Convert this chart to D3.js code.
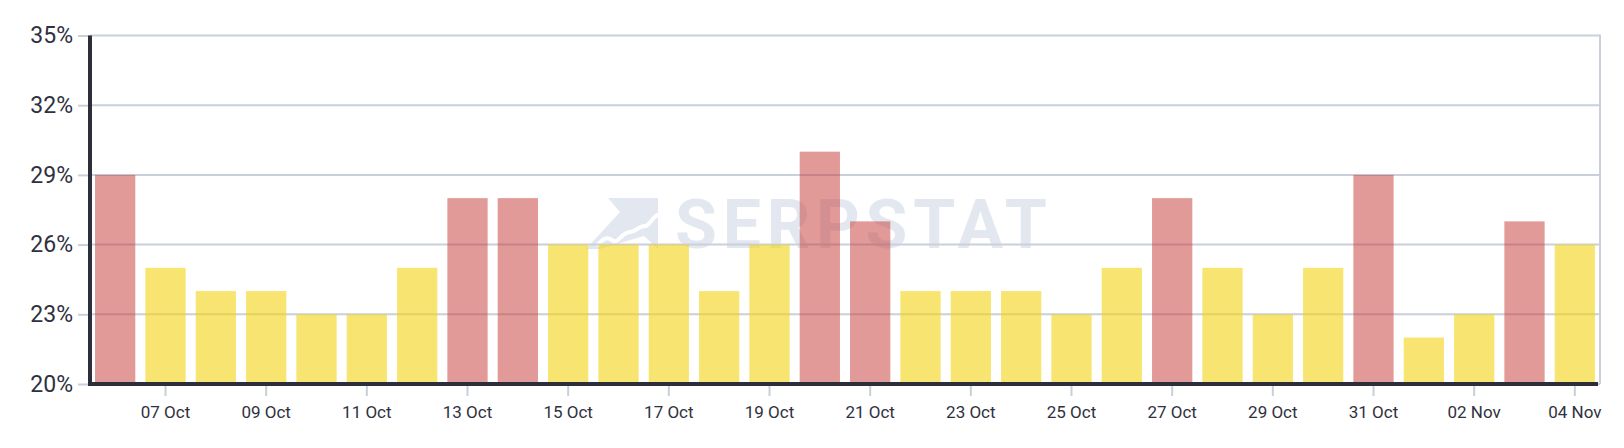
<!DOCTYPE html>
<html>
<head>
<meta charset="utf-8">
<script src="https://cdn.jsdelivr.net/npm/d3@7"></script>
<style>
  html, body { margin: 0; padding: 0; background: #ffffff; }
  svg { display: block; font-family: Roboto, "Noto Sans", sans-serif; }
</style>
</head>
<body>
<svg id="chart" width="1624" height="448"></svg>
<script>
const categories = ["06 Oct","07 Oct","08 Oct","09 Oct","10 Oct","11 Oct","12 Oct","13 Oct","14 Oct","15 Oct",
  "16 Oct","17 Oct","18 Oct","19 Oct","20 Oct","21 Oct","22 Oct","23 Oct","24 Oct","25 Oct",
  "26 Oct","27 Oct","28 Oct","29 Oct","30 Oct","31 Oct","01 Nov","02 Nov","03 Nov","04 Nov"];
const values = [29,25,24,24,23,23,25,28,28,26,26,26,24,26,30,27,24,24,24,23,25,28,25,23,25,29,22,23,27,26];
const highlighted = [1,0,0,0,0,0,0,1,1,0,0,0,0,0,1,1,0,0,0,0,0,1,0,0,0,1,0,0,1,0];
const yTicks = [20,23,26,29,32,35];
const xTickLabels = ["07 Oct","09 Oct","11 Oct","13 Oct","15 Oct","17 Oct","19 Oct","21 Oct","23 Oct","25 Oct","27 Oct","29 Oct","31 Oct","02 Nov","04 Nov"];

(function () {
const svg = d3.select("#chart");
const mLeft = 90, mRight = 1600, mTop = 35.5, mBottom = 384;
const gridColor = "#c9d0dc", axisColor = "#2c2e3a", textColor = "#2f3140";

const x = d3.scaleBand().domain(categories).range([mLeft, mRight]).paddingInner(0.2).paddingOuter(0.1);
const y = d3.scaleLinear().domain([20, 35]).range([mBottom, mTop]);

// watermark
const wm = svg.append("g").attr("fill", "#e3e8f0");
wm.append("path").attr("d", "M608,198 L658,198 L658,249 L644,236 L600,249 L586,249 L620,212 Z");
wm.append("path").attr("d", "M597,246 C603,238 608,236 613,241 C618,244 622,232 630,232 C636,232 638,226 645,226 C650,226 652,216 660,214")
  .attr("fill", "none").attr("stroke", "#ffffff").attr("stroke-width", 4);
wm.append("text").attr("x", 675).attr("y", 248).attr("font-size", 68).attr("font-weight", 700)
  .attr("textLength", 372).attr("lengthAdjust", "spacing").text("SERPSTAT");

// grid + y axis labels
const yAxis = d3.axisLeft(y).tickValues(yTicks).tickSize(mLeft - 78).tickFormat(d => d + "%").tickPadding(5);
const gy = svg.append("g").attr("transform", `translate(${mLeft},0)`).call(yAxis);
gy.select(".domain").remove();
gy.selectAll(".tick line").attr("stroke", gridColor).attr("stroke-width", 2);
gy.selectAll(".tick text").attr("font-size", 23).attr("fill", textColor).attr("font-family", "Roboto");
svg.append("g").selectAll("line").data(yTicks).join("line")
  .attr("x1", mLeft).attr("x2", mRight).attr("y1", d => y(d)).attr("y2", d => y(d))
  .attr("stroke", gridColor).attr("stroke-width", 2);
svg.append("line").attr("x1", mRight).attr("x2", mRight).attr("y1", y(35) - 1).attr("y2", mBottom)
  .attr("stroke", gridColor).attr("stroke-width", 2);

// bars
svg.append("g").selectAll("rect").data(categories).join("rect")
  .attr("x", d => x(d)).attr("width", x.bandwidth())
  .attr("y", (d, i) => y(values[i])).attr("height", (d, i) => y(20) - y(values[i]))
  .attr("fill", (d, i) => highlighted[i] ? "rgba(196,54,50,0.5)" : "rgba(244,211,18,0.6)");

// x axis
const xAxis = d3.axisBottom(x).tickValues(xTickLabels).tickSize(12).tickPadding(10);
const gx = svg.append("g").attr("transform", `translate(0,${mBottom})`).call(xAxis);
gx.select(".domain").remove();
gx.selectAll(".tick line").attr("stroke", gridColor).attr("stroke-width", 2);
gx.selectAll(".tick text").attr("font-size", 17).attr("fill", textColor).attr("font-family", "Roboto");

svg.append("line").attr("x1", mLeft - 2).attr("x2", mRight - 2).attr("y1", mBottom).attr("y2", mBottom)
  .attr("stroke", axisColor).attr("stroke-width", 4);
svg.append("line").attr("x1", mLeft).attr("x2", mLeft).attr("y1", mTop).attr("y2", mBottom + 2)
  .attr("stroke", axisColor).attr("stroke-width", 4);
})();
</script>
</body>
</html>
